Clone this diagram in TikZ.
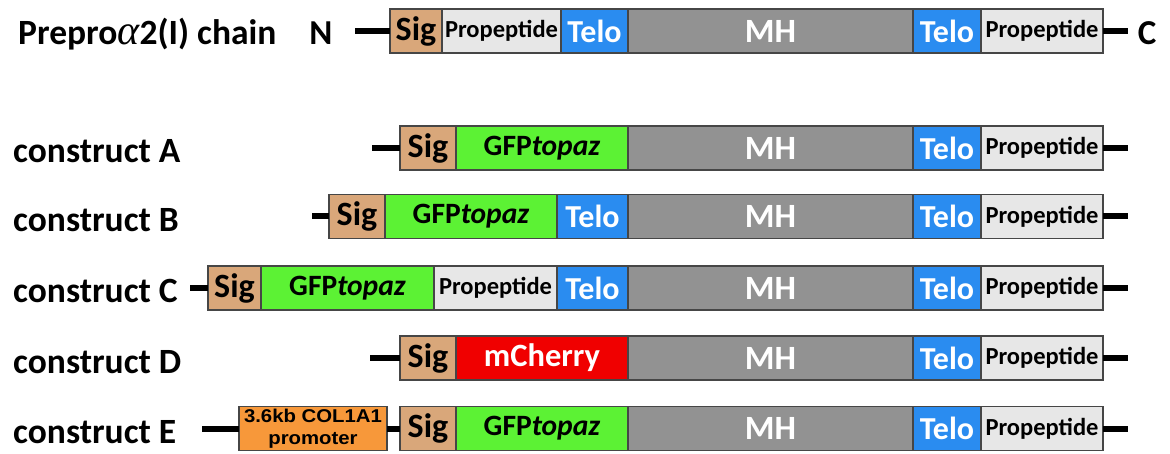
\documentclass[tikz,border=0pt]{standalone}
\usepackage{fontspec}
\setmainfont{Carlito}
\newfontfamily\promfont{Liberation Sans}
\newfontfamily\greekfont{Liberation Serif}
\definecolor{sigc}{RGB}{217,167,122}
\definecolor{propc}{RGB}{231,231,231}
\definecolor{teloc}{RGB}{42,140,240}
\definecolor{mhc}{RGB}{146,146,146}
\definecolor{gfpc}{RGB}{92,242,52}
\definecolor{cherc}{RGB}{240,0,0}
\definecolor{promc}{RGB}{247,152,58}
\definecolor{edgec}{RGB}{70,70,70}
\tikzset{
  blk/.style={draw=edgec, line width=1.2pt, minimum height=44pt, inner sep=0pt, outer sep=0pt, anchor=west, font=\bfseries},
  sigb/.style={blk, fill=sigc, font=\fontsize{34}{38}\selectfont\bfseries},
  propb/.style={blk, fill=propc, font=\fontsize{24.5}{30}\selectfont\bfseries},
  telob/.style={blk, fill=teloc, text=white, font=\fontsize{32}{36}\selectfont\bfseries},
  mhb/.style={blk, fill=mhc, text=white, font=\fontsize{34}{38}\selectfont\bfseries},
  gfpb/.style={blk, fill=gfpc, font=\fontsize{29.5}{34}\selectfont\bfseries},
  cherb/.style={blk, fill=cherc, text=white, font=\fontsize{32.5}{36}\selectfont\bfseries},
  promb/.style={blk, fill=promc, align=center, font=\fontsize{18.5}{22}\selectfont\promfont\bfseries},
  rowlabel/.style={anchor=base west, inner sep=0pt, font=\fontsize{35.5}{40}\selectfont\bfseries},
  endlabel/.style={anchor=base, inner sep=0pt, font=\fontsize{35}{40}\selectfont\bfseries},
  conn/.style={line width=6pt, black}
}
% segment: name, left x, right x, centre y, style, text
\newcommand\seg[6]{%
  \pgfmathsetmacro\segw{#3-#2}%
  \node[#5, minimum width=\segw pt] (#1) at (#2,#4) {#6};}
\newcommand\gfptxt{GFP\textit{topaz}}
\begin{document}
\begin{tikzpicture}[x=1pt,y=-1pt]
\useasboundingbox[fill=white] (0,0) rectangle (1170,454);

% common C-terminal part of every row: MH, Telo, Propeptide
\newcommand\tail[2]{%
  \seg{mh#1}{628}{913}{#2}{mhb}{MH}
  \seg{tc#1}{913}{981}{#2}{telob}{Telo}
  \seg{pc#1}{981}{1103}{#2}{propb}{Propeptide}
  \coordinate (r#1) at (1128,#2);
  \draw[conn] (pc#1.east) -- (r#1);}

% Prepro alpha2(I) chain
\node[rowlabel] (lab0) at (18,45) {Prepro{\greekfont\mdseries\itshape\fontsize{42}{42}\selectfont α}2(I) chain};
\node[endlabel] (nterm) at (321,45) {N};
\node[endlabel] (cterm) at (1147,45) {C};
\seg{sig0}{390}{442}{31}{sigb}{Sig}
\seg{pn0}{442}{561}{31}{propb}{Propeptide}
\seg{tn0}{561}{628}{31}{telob}{Telo}
\tail{0}{31}
\coordinate (l0) at (355,31);
\draw[conn] (l0) -- (sig0.west);

% construct A
\node[rowlabel] (labA) at (13,163) {construct A};
\seg{sigA}{400}{456}{148}{sigb}{Sig}
\seg{gfpA}{456}{628}{148}{gfpb}{\gfptxt}
\tail{A}{148}
\coordinate (lA) at (372,148);
\draw[conn] (lA) -- (sigA.west);

% construct B
\node[rowlabel] (labB) at (13,231.5) {construct B};
\seg{sigB}{329}{385}{216.5}{sigb}{Sig}
\seg{gfpB}{385}{557}{216.5}{gfpb}{\gfptxt}
\seg{tnB}{557}{628}{216.5}{telob}{Telo}
\tail{B}{216.5}
\coordinate (lB) at (312,216.5);
\draw[conn] (lB) -- (sigB.west);

% construct C
\node[rowlabel] (labC) at (13,303) {construct C};
\seg{sigC}{208}{261}{288}{sigb}{Sig}
\seg{gfpC}{261}{434}{288}{gfpb}{\gfptxt}
\seg{pnC}{434}{557}{288}{propb}{Propeptide}
\seg{tnC}{557}{628}{288}{telob}{Telo}
\tail{C}{288}
\coordinate (lC) at (190,288);
\draw[conn] (lC) -- (sigC.west);

% construct D
\node[rowlabel] (labD) at (13,373) {construct D};
\seg{sigD}{400}{456}{358}{sigb}{Sig}
\seg{chD}{456}{628}{358}{cherb}{mCherry}
\tail{D}{358}
\coordinate (lD) at (370,358);
\draw[conn] (lD) -- (sigD.west);

% construct E
\node[rowlabel] (labE) at (13,443.5) {construct E};
\seg{promE}{239}{387}{428.5}{promb}{\scalebox{1.1}[1]{3.6kb COL1A1}\\\scalebox{1.1}[1]{promoter}}
\seg{sigE}{400}{456}{428.5}{sigb}{Sig}
\seg{gfpE}{456}{628}{428.5}{gfpb}{\gfptxt}
\tail{E}{428.5}
\coordinate (lE) at (202,428.5);
\draw[conn] (lE) -- (promE.west);
\draw[conn] (promE.east) -- (sigE.west);
\end{tikzpicture}
\end{document}
